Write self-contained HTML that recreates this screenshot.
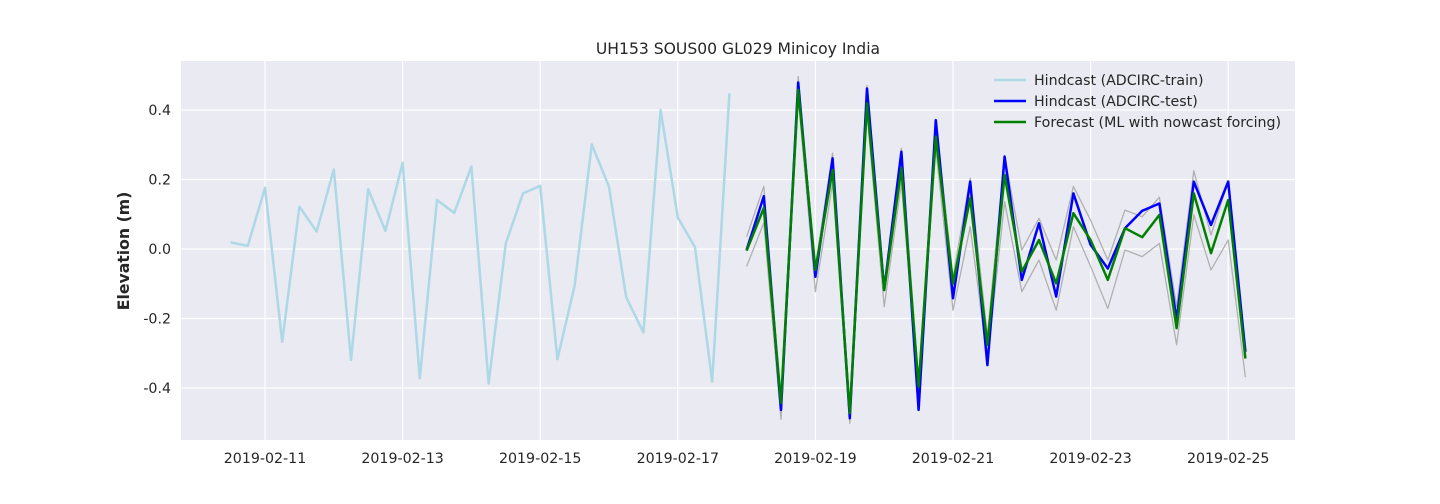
<!DOCTYPE html>
<html><head><meta charset="utf-8"><style>
html,body{margin:0;padding:0;background:#fff;}
svg{display:block;font-family:"DejaVu Sans","Liberation Sans",sans-serif;}
</style></head><body>
<svg id="chart" width="1440" height="504">
<rect x="181" y="61" width="1114" height="379" fill="#eaeaf2"/>
<g id="grid"></g>
<g id="series"></g>
<g id="ticks"></g>
<text x="738" y="54" text-anchor="middle" font-size="15.6" fill="#262626">UH153 SOUS00 GL029 Minicoy India</text>
<text x="129" y="251" text-anchor="middle" font-size="15.7" font-weight="bold" fill="#262626" transform="rotate(-90 129 251)">Elevation (m)</text>
<g>
<line x1="994" y1="80" x2="1026" y2="80" stroke="#add8e6" stroke-width="2.5"/>
<text x="1034" y="85" font-size="14.2" fill="#262626">Hindcast (ADCIRC-train)</text>
<line x1="994" y1="101" x2="1026" y2="101" stroke="#0000ff" stroke-width="2.5"/>
<text x="1034" y="106" font-size="14.2" fill="#262626">Hindcast (ADCIRC-test)</text>
<line x1="994" y1="122" x2="1026" y2="122" stroke="#008000" stroke-width="2.5"/>
<text x="1034" y="127" font-size="14.2" fill="#262626">Forecast (ML with nowcast forcing)</text>
</g>
</svg>
<script>
const trainValues=[0.019,0.009,0.176,-0.267,0.122,0.05,0.229,-0.319,0.172,0.052,0.248,-0.372,0.141,0.104,0.237,-0.387,0.016,0.16,0.182,-0.317,-0.106,0.301,0.179,-0.139,-0.24,0.4,0.091,0.005,-0.382,0.448];
const testValues=[-0.003,0.152,-0.463,0.479,-0.08,0.261,-0.487,0.462,-0.118,0.28,-0.463,0.371,-0.142,0.194,-0.334,0.266,-0.089,0.074,-0.137,0.16,0.012,-0.056,0.06,0.11,0.131,-0.204,0.194,0.069,0.194,-0.296];
const forecastValues=[-0.005,0.118,-0.443,0.458,-0.06,0.227,-0.472,0.419,-0.118,0.232,-0.396,0.323,-0.099,0.146,-0.276,0.213,-0.065,0.026,-0.099,0.103,0.026,-0.089,0.06,0.034,0.098,-0.228,0.16,-0.012,0.141,-0.315];
const upperValues=[0.035,0.18,-0.43,0.496,-0.05,0.276,-0.46,0.47,-0.10,0.29,-0.38,0.37,-0.08,0.204,-0.25,0.27,-0.003,0.088,-0.032,0.18,0.083,-0.032,0.112,0.093,0.149,-0.166,0.225,0.04,0.194,-0.29];
const lowerValues=[-0.05,0.075,-0.49,0.44,-0.123,0.19,-0.502,0.39,-0.166,0.19,-0.42,0.29,-0.176,0.064,-0.32,0.136,-0.123,-0.032,-0.176,0.064,-0.05,-0.171,-0.003,-0.022,0.016,-0.276,0.098,-0.06,0.026,-0.369];
const xTickLabels=["2019-02-11","2019-02-13","2019-02-15","2019-02-17","2019-02-19","2019-02-21","2019-02-23","2019-02-25"];
const yTickValues=[-0.4,-0.2,0.0,0.2,0.4];
const trainStartDay=-0.5, testStartDay=7.0, stepDays=0.25;

const NS="http://www.w3.org/2000/svg";
function xScale(d){return 265+d*68.8;}
function yScale(v){return 249-v*347.5;}
function mk(tag,attrs,parent){const e=document.createElementNS(NS,tag);for(const k in attrs)e.setAttribute(k,attrs[k]);parent.appendChild(e);return e;}
const grid=document.getElementById('grid'),ticks=document.getElementById('ticks'),ser=document.getElementById('series');
xTickLabels.forEach((lab,i)=>{const x=xScale(i*2);
 const l=mk('line',{x1:x,x2:x,y1:61,y2:440,stroke:'#fff','stroke-width':1.2},grid);
 
 
 const t=mk('text',{x:x,y:463,'text-anchor':'middle','font-size':14.2,fill:'#262626'},ticks);t.textContent=lab;
 
 
});
yTickValues.forEach(v=>{const y=yScale(v);
 const l=mk('line',{x1:181,x2:1295,y1:y,y2:y,stroke:'#fff','stroke-width':1.2},grid);
 
 
 const t=mk('text',{x:171,y:y+5,'text-anchor':'end','font-size':14.2,fill:'#262626'},ticks);t.textContent=v.toFixed(1);
 
 
});
function line(vals,start,color,w,name){
 const pts=vals.map((v,i)=>xScale(start+i*stepDays).toFixed(1)+','+yScale(v).toFixed(1)).join(' ');
 const p=mk('polyline',{points:pts,fill:'none',stroke:color,'stroke-width':w,'stroke-linejoin':'round'},ser);
 
 
}
line(trainValues,trainStartDay,'#add8e6',2.5,'train-line');
line(upperValues,testStartDay,'#b0b0b0',1.3,'upper-bound-line');
line(lowerValues,testStartDay,'#b0b0b0',1.3,'lower-bound-line');
line(testValues,testStartDay,'#0000ff',2.5,'test-line');
line(forecastValues,testStartDay,'#008000',2.5,'forecast-line');
</script>
</body></html>
